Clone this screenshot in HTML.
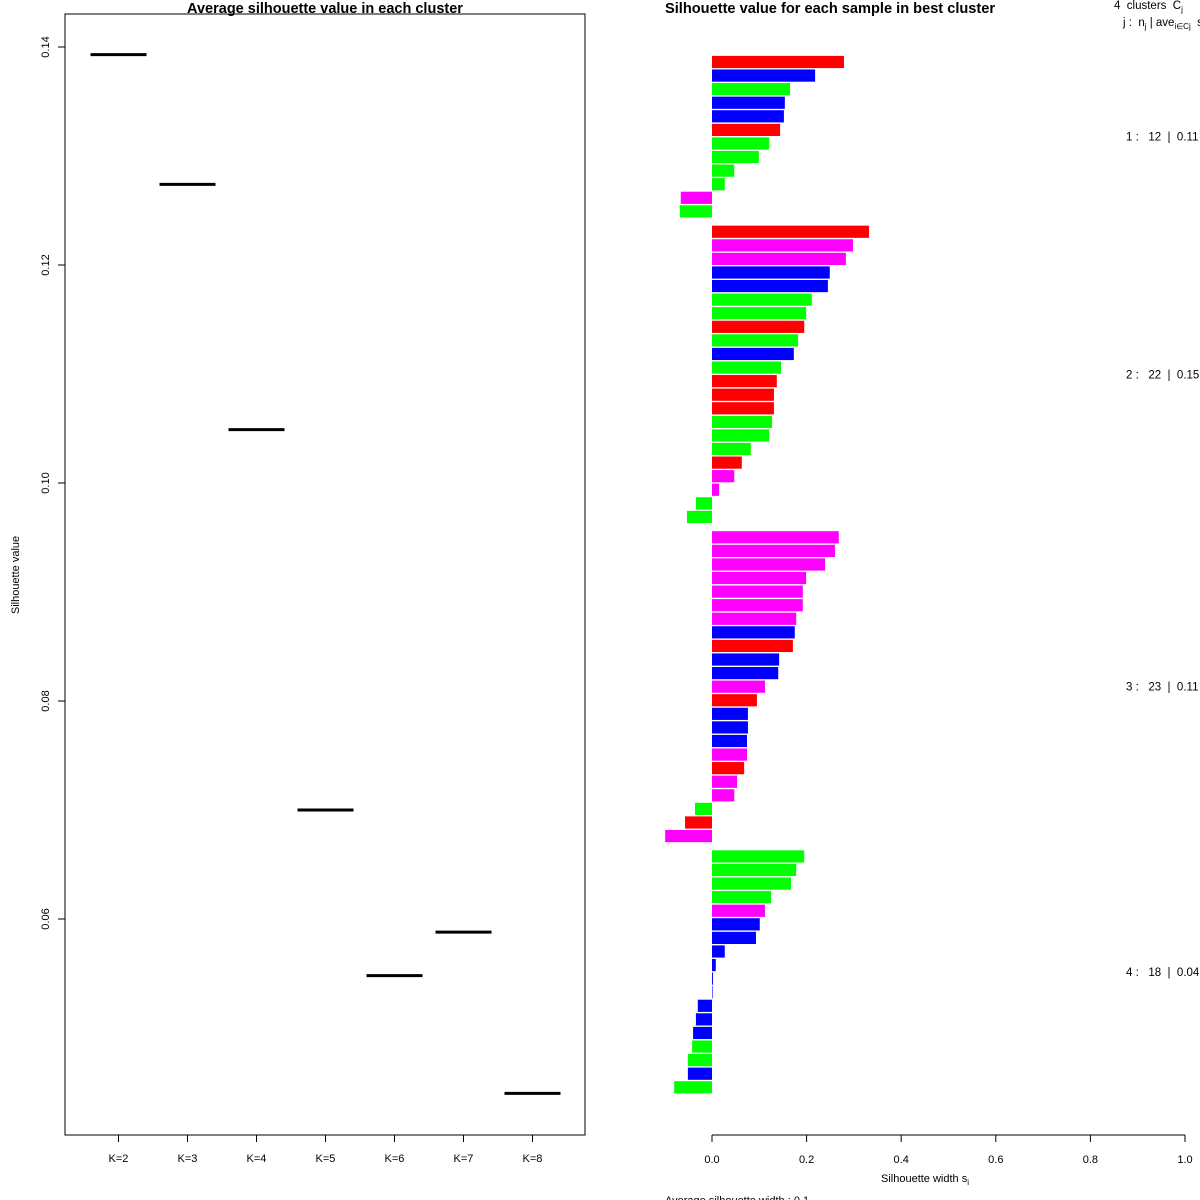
<!DOCTYPE html>
<html><head><meta charset="utf-8"><style>
html,body{margin:0;padding:0;background:#fff;}
svg{display:block;font-family:"Liberation Sans",sans-serif;}
text{white-space:pre;}
</style></head><body>
<svg id="c" width="1200" height="1200" viewBox="0 0 1200 1200">
<g id="left">
<rect x="65" y="14" width="520" height="1121" fill="none" stroke="#000" stroke-width="1"/>
<text x="325" y="13" text-anchor="middle" font-size="14.5" font-weight="bold">Average silhouette value in each cluster</text>
<text transform="translate(19,575) rotate(-90)" text-anchor="middle" font-size="11">Silhouette value</text>
</g>
<g id="right">
<text x="665" y="13" font-size="14.6" font-weight="bold">Silhouette value for each sample in best cluster</text>
<text x="1114" y="9" font-size="11.5">4  clusters  C<tspan font-size="8" dy="3">j</tspan></text>
<text x="1123" y="26" font-size="11.5">j :  n<tspan font-size="8" dy="3">j</tspan><tspan dy="-3"> | ave</tspan><tspan font-size="8" dy="3">i∈Cj</tspan><tspan dy="-3">  s</tspan></text>
<line x1="712" y1="1135" x2="1185" y2="1135" stroke="#000"/>
<text x="925" y="1182" text-anchor="middle" font-size="11">Silhouette width s<tspan font-size="8" dy="3">i</tspan></text>
<text x="665" y="1204" font-size="11">Average silhouette width : 0.1</text>
</g>
</svg>
<script>
// left chart data
const kLabels = ["K=2","K=3","K=4","K=5","K=6","K=7","K=8"];
const avgValues = [0.1393,0.1274,0.1049,0.0700,0.0548,0.0588,0.0440];
const yTicks = [0.06,0.08,0.10,0.12,0.14];
// right chart data
const clusterSizes = [12,22,23,18];
const clusterAvg = ["0.11","0.15","0.11","0.04"];
const silValues = [
0.279,0.218,0.165,0.154,0.152,0.144,0.121,0.099,0.047,0.027,-0.066,-0.068,
0.332,0.298,0.283,0.249,0.245,0.211,0.199,0.195,0.182,0.173,0.146,0.137,0.131,0.131,0.127,0.121,0.082,0.063,0.047,0.015,-0.034,-0.053,
0.268,0.260,0.239,0.199,0.192,0.192,0.178,0.175,0.171,0.142,0.140,0.112,0.095,0.076,0.076,0.074,0.074,0.068,0.053,0.047,-0.036,-0.057,-0.099,
0.195,0.178,0.167,0.125,0.112,0.101,0.093,0.027,0.008,0.002,0.001,-0.030,-0.034,-0.040,-0.042,-0.051,-0.051,-0.080];
const sampleColors = "rbgbbrggggmg rmmbbggrgbgrrrgggrmmgg mmmmmmmbrbbmrbbbmrmmgrm ggggmbbbbbbbbbggbg".replace(/ /g,"");
const xTicks = [0,0.2,0.4,0.6,0.8,1.0];

const NS="http://www.w3.org/2000/svg";
const L=document.getElementById('left'), R=document.getElementById('right');
function mk(tag,attrs,parent,txt){const e=document.createElementNS(NS,tag);for(const k in attrs)e.setAttribute(k,attrs[k]);if(txt!=null)e.textContent=txt;parent.appendChild(e);return e;}
const ly=v=>47+(0.14-v)*10900;
const lx=i=>118.5+i*69;
yTicks.forEach(t=>{
  const g=mk('line',{x1:58,x2:65,y1:ly(t),y2:ly(t),stroke:'#000'},L);
  
  
  const tx=mk('text',{transform:`translate(49,${ly(t)}) rotate(-90)`,'text-anchor':'middle','font-size':11},L,t.toFixed(2));
  
  
});
kLabels.forEach((k,i)=>{
  const t=mk('line',{x1:lx(i),x2:lx(i),y1:1135,y2:1142,stroke:'#000'},L);
  
  
  const tx=mk('text',{x:lx(i),y:1162,'text-anchor':'middle','font-size':11},L,k);
  
  
  const s=mk('line',{x1:lx(i)-28,x2:lx(i)+28,y1:ly(avgValues[i]),y2:ly(avgValues[i]),stroke:'#000','stroke-width':3},L);
  
  
});
const rx=v=>712+v*473;
const step=13.58;
const colMap={r:'#ff0000',b:'#0000ff',g:'#00ff00',m:'#ff00ff'};
let idx=0,pos=0;
clusterSizes.forEach((n,c)=>{
  const startY=62+pos*step;
  for(let j=0;j<n;j++){
    const v=silValues[idx];
    const cy=62+pos*step;
    const x0=Math.min(rx(0),rx(v)), w=Math.max(Math.abs(rx(v)-rx(0)),0.6);
    const b=mk('rect',{x:x0,y:cy-6.1,width:w,height:12.2,fill:colMap[sampleColors[idx]]||'#00ff00'},R);
    
    
    idx++;pos++;
  }
  const midY=(startY+62+(pos-1)*step)/2;
  const lab=mk('text',{x:1126,y:midY+4,'font-size':11.5},R,`${c+1} :   ${n}  |  ${clusterAvg[c]}`);
  
  
  pos+=0.5;
});
xTicks.forEach(t=>{
  const l=mk('line',{x1:rx(t),x2:rx(t),y1:1135,y2:1142,stroke:'#000'},R);
  
  
  const tx=mk('text',{x:rx(t),y:1163,'text-anchor':'middle','font-size':11},R,t.toFixed(1));
  
  
});
</script>
</body></html>
